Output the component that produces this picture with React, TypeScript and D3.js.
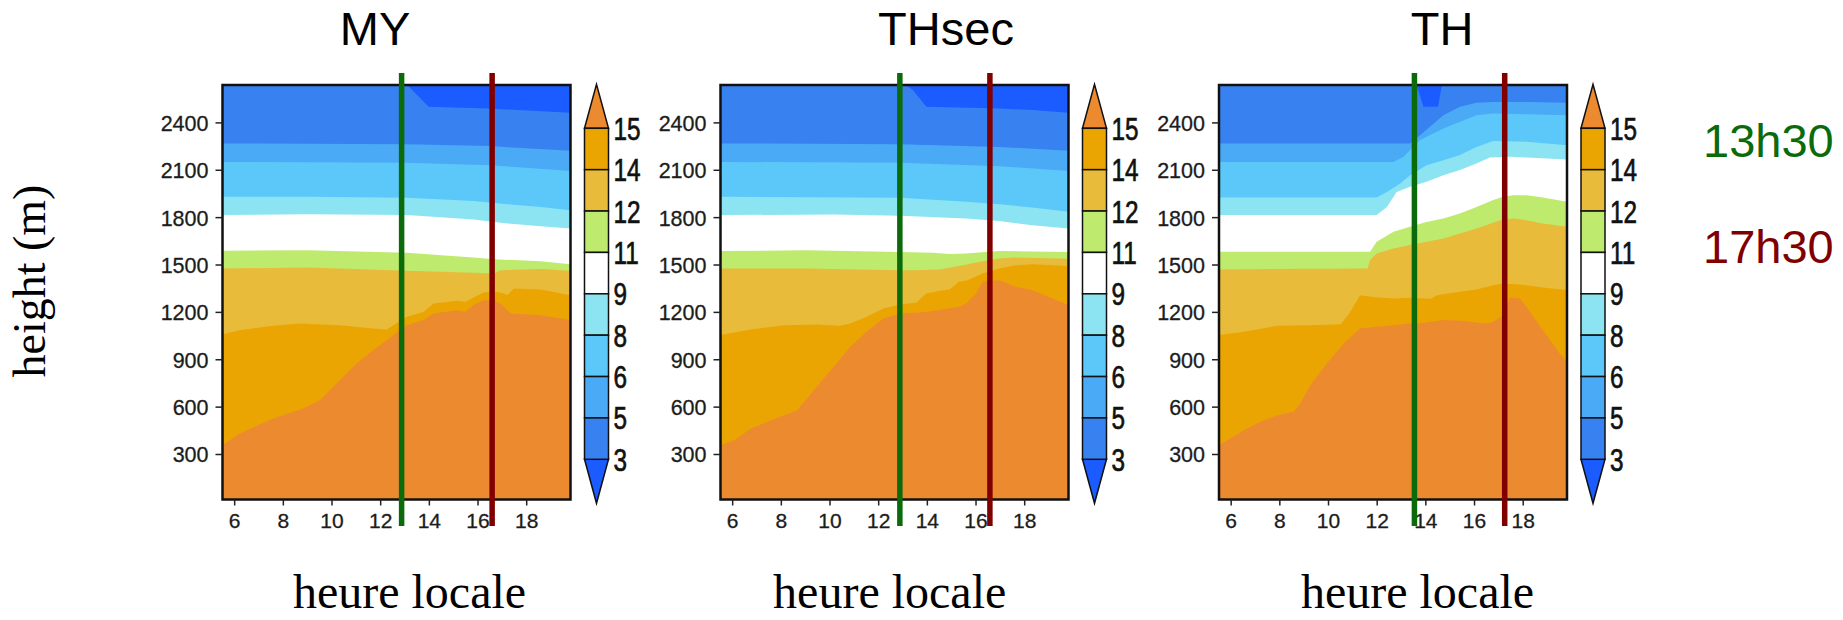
import React from "react";
import * as d3 from "d3";

type Pt = [number, number];

// contour levels (top of colorbar to bottom)
const levels = [15, 14, 12, 11, 9, 8, 6, 5, 3];
// bandColors[0] = >15, bandColors[i] = between levels[i] and levels[i-1], last = <3
const bandColors = ["#EC8A30", "#EBA502", "#E8BC3A", "#BEEA6E", "#FFFFFF", "#8CE4F3", "#5CC8FA", "#4BAAF5", "#3782F0", "#1A5CFF"];

const panelNames = ["MY", "THsec", "TH"];
const xTicks = [6, 8, 10, 12, 14, 16, 18];
const yTicks = [300, 600, 900, 1200, 1500, 1800, 2100, 2400];
const hourDomain = [5.5, 19.8];
const heightDomain = [15, 2640];
const greenHours = [12.86, 12.87, 13.53];
const redHours = [16.58, 16.57, 17.24];
const timeLabels = ["13h30", "17h30"];

// ---- MY : height (m) of each contour boundary vs local hour ----
const MY_15: Pt[] = [[5.5, 359], [6.2, 433], [7.58, 528], [8.81, 591], [9.5, 644], [10.33, 771], [11.01, 876], [11.7, 961], [12.25, 1024], [12.52, 1056], [13.07, 1119], [13.76, 1151], [14.17, 1193], [15.14, 1214], [15.48, 1204], [15.82, 1246], [16.23, 1277], [16.65, 1277], [16.92, 1256], [17.33, 1193], [18.57, 1182], [19.8, 1151]];
const MY_14: Pt[] = [[5.5, 1062], [6.2, 1087], [7.58, 1115], [8.68, 1130], [10.33, 1119], [11.7, 1098], [12.25, 1092], [12.52, 1119], [13.07, 1172], [13.76, 1203], [14.17, 1256], [15.14, 1273], [15.48, 1267], [15.82, 1294], [16.23, 1326], [16.65, 1334], [17.06, 1320], [17.2, 1309], [17.47, 1351], [18.57, 1345], [19.8, 1309]];
const MY_12: Pt[] = [[5.5, 1478], [9, 1484], [13.07, 1463], [15.82, 1451], [16.65, 1446], [16.92, 1467], [18.57, 1474], [19.8, 1463]];
const MY_11: Pt[] = [[5.5, 1590], [9, 1594], [13.07, 1577], [15.82, 1548], [16.65, 1537], [18.57, 1524], [19.8, 1505]];
const MY_9: Pt[] = [[5.5, 1816], [9, 1822], [13.07, 1816], [15.82, 1788], [17.2, 1763], [18.57, 1746], [19.8, 1731]];
const MY_8: Pt[] = [[5.5, 1932], [9, 1932], [13.07, 1926], [15.82, 1906], [17.2, 1885], [18.57, 1868], [19.8, 1847]];
const MY_6: Pt[] = [[5.5, 2153], [13.07, 2147], [16.5, 2132], [19.8, 2096]];
const MY_5: Pt[] = [[5.5, 2270], [13.07, 2265], [16.5, 2253], [19.8, 2223]];
const MY_3: Pt[] = [[5.5, 2700], [13.0, 2700], [13.1, 2639], [13.97, 2502], [16.4, 2491], [19.8, 2464]];

// ---- THsec ----
const THsec_15: Pt[] = [[5.5, 359], [6.07, 391], [6.75, 465], [7.43, 507], [8.11, 549], [8.65, 581], [9.33, 707], [10.15, 855], [10.83, 982], [11.51, 1077], [12.19, 1161], [12.87, 1193], [13.96, 1203], [15.32, 1235], [15.59, 1256], [16.0, 1320], [16.27, 1394], [16.95, 1404], [17.63, 1362], [18.31, 1341], [18.99, 1298], [19.8, 1246]];
const THsec_14: Pt[] = [[5.5, 1056], [6.75, 1092], [8.11, 1119], [9.5, 1123], [10.4, 1115], [10.83, 1130], [11.51, 1172], [12.19, 1225], [12.87, 1250], [13.55, 1263], [13.96, 1320], [14.5, 1337], [14.91, 1345], [15.3, 1394], [15.59, 1400], [16.27, 1446], [16.95, 1478], [17.63, 1499], [18.31, 1505], [19.8, 1493]];
const THsec_12: Pt[] = [[5.5, 1478], [9, 1478], [12.87, 1467], [13.55, 1467], [14.5, 1472], [15.3, 1493], [16.27, 1524], [16.95, 1541], [17.63, 1548], [19.8, 1539]];
const THsec_11: Pt[] = [[5.5, 1588], [9, 1594], [12.87, 1583], [14.23, 1577], [14.91, 1569], [15.59, 1573], [16.27, 1581], [16.95, 1588], [19.8, 1583]];
const THsec_9: Pt[] = [[5.5, 1816], [10.15, 1820], [12.87, 1812], [15.59, 1795], [16.95, 1778], [18.31, 1752], [19.8, 1731]];
const THsec_8: Pt[] = [[5.5, 1932], [12.87, 1926], [15.59, 1900], [16.95, 1885], [18.31, 1864], [19.8, 1837]];
const THsec_6: Pt[] = [[5.5, 2153], [12.87, 2147], [16.95, 2126], [19.8, 2096]];
const THsec_5: Pt[] = [[5.5, 2270], [12.87, 2265], [16.95, 2248], [19.8, 2223]];
const THsec_3: Pt[] = [[5.5, 2700], [13.05, 2700], [13.14, 2639], [13.41, 2607], [13.96, 2502], [16.95, 2491], [18.31, 2481], [19.8, 2464]];

// ---- TH ----
const TH_15: Pt[] = [[5.5, 359], [6.52, 454], [7.2, 507], [7.89, 549], [8.57, 570], [8.84, 623], [9.25, 739], [9.93, 876], [10.62, 1003], [11.3, 1098], [11.98, 1109], [12.67, 1119], [13.35, 1130], [14.03, 1136], [14.72, 1151], [15.4, 1147], [16.08, 1136], [16.49, 1130], [16.77, 1140], [17.17, 1182], [17.45, 1294], [17.86, 1288], [18.13, 1235], [18.81, 1087], [19.5, 940], [19.8, 887]];
const TH_14: Pt[] = [[5.5, 1056], [6.52, 1077], [7.89, 1115], [9.25, 1119], [10.5, 1125], [10.85, 1193], [11.3, 1309], [11.98, 1294], [12.67, 1288], [13.35, 1292], [14.2, 1286], [14.45, 1309], [15.4, 1330], [16.08, 1345], [16.77, 1372], [17.17, 1383], [17.86, 1376], [18.81, 1358], [19.8, 1341]];
const TH_12: Pt[] = [[5.5, 1472], [11.6, 1478], [11.71, 1531], [11.98, 1573], [12.67, 1605], [13.35, 1626], [14.03, 1647], [14.72, 1668], [15.4, 1700], [16.08, 1731], [16.77, 1767], [17.17, 1788], [17.58, 1794], [18.13, 1784], [18.81, 1763], [19.8, 1742]];
const TH_11: Pt[] = [[5.5, 1584], [11.71, 1584], [11.98, 1647], [12.67, 1710], [13.35, 1742], [14.03, 1773], [14.72, 1794], [15.4, 1826], [16.08, 1868], [16.77, 1911], [17.17, 1932], [17.58, 1942], [18.13, 1942], [18.81, 1927], [19.8, 1900]];
const TH_9: Pt[] = [[5.5, 1816], [11.98, 1816], [12.4, 1868], [12.8, 1963], [13.35, 1995], [14.03, 2027], [14.72, 2069], [15.4, 2101], [16.08, 2143], [16.63, 2181], [17.45, 2185], [18.13, 2181], [19.8, 2168]];
const TH_8: Pt[] = [[5.5, 1928], [11.98, 1928], [12.4, 1963], [12.95, 2016], [13.35, 2069], [14.03, 2132], [14.72, 2164], [15.4, 2196], [16.08, 2248], [16.77, 2286], [18.13, 2280], [19.8, 2259]];
const TH_6: Pt[] = [[5.5, 2153], [12.67, 2153], [13.08, 2185], [13.76, 2291], [14.72, 2365], [15.4, 2407], [16.08, 2449], [16.77, 2460], [18.13, 2455], [19.8, 2449]];
const TH_5: Pt[] = [[5.5, 2270], [13.35, 2270], [13.76, 2322], [14.72, 2449], [15.4, 2502], [16.08, 2527], [16.77, 2533], [18.13, 2533], [19.8, 2527]];
const TH_3: Pt[] = [[5.5, 2700], [13.6, 2700], [13.62, 2639], [13.9, 2502], [14.5, 2502], [14.65, 2630], [14.67, 2700], [19.8, 2700]];

const panelBounds: Pt[][][] = [
  [MY_15, MY_14, MY_12, MY_11, MY_9, MY_8, MY_6, MY_5, MY_3],
  [THsec_15, THsec_14, THsec_12, THsec_11, THsec_9, THsec_8, THsec_6, THsec_5, THsec_3],
  [TH_15, TH_14, TH_12, TH_11, TH_9, TH_8, TH_6, TH_5, TH_3],
];

// ---- layout ----
const WIDTH = 1843;
const HEIGHT = 620;
const panelLefts = [222.5, 720.5, 1219];
const titleX = [375, 946, 1442];
const xLabelX = [409.5, 889.7, 1417.5];
const PW = 348;
const TOP = 85;
const PH = 414.5;
const CB_OFF = 362;
const CB_W = 24;
const CB_TOP = 128.3;
const CB_BOT = 459.3;
const TRI = 44;

const SANS = "'Liberation Sans', Arial, sans-serif";
const SERIF = "'Liberation Serif', 'Times New Roman', serif";

function Panel({ idx }: { idx: number }) {
  const left = panelLefts[idx];
  const x = d3.scaleLinear().domain(hourDomain).range([left, left + PW]);
  const y = d3.scaleLinear().domain(heightDomain).range([TOP + PH, TOP]);
  const area = d3
    .area<Pt>()
    .x((d) => x(d[0]))
    .y0(TOP + PH + 10)
    .y1((d) => y(d[1]));
  const bounds = panelBounds[idx];
  const clipId = `clip-${idx}`;
  const cbx = left + CB_OFF;
  const cb = d3.scaleLinear().domain([0, levels.length - 1]).range([CB_TOP, CB_BOT]);
  const order = d3.range(bounds.length - 1, -1, -1);

  return (
    <g>
      <defs>
        <clipPath id={clipId}>
          <rect x={left} y={TOP} width={PW} height={PH} />
        </clipPath>
      </defs>
      <g clipPath={`url(#${clipId})`}>
        <rect x={left} y={TOP} width={PW} height={PH} fill={bandColors[bandColors.length - 1]} />
        {order.map((i) => (
          <path key={i} d={area(bounds[i]) || ""} fill={bandColors[i]} />
        ))}
      </g>
      <rect x={left} y={TOP} width={PW} height={PH} fill="none" stroke="#111" strokeWidth={2.5} />
      {/* y axis */}
      {yTicks.map((t) => (
        <g key={t}>
          <line x1={left - 7} x2={left} y1={y(t)} y2={y(t)} stroke="#222" strokeWidth={1.5} />
          <text x={left - 14} y={y(t) + 8} textAnchor="end" fontFamily={SANS} fontSize={21.5} fill="#1c1c1c" stroke="#1c1c1c" strokeWidth={0.3}>
            {t}
          </text>
        </g>
      ))}
      {/* x axis */}
      {xTicks.map((t) => (
        <g key={t}>
          <line x1={x(t)} x2={x(t)} y1={TOP + PH} y2={TOP + PH + 6} stroke="#222" strokeWidth={1.5} />
          <text x={x(t)} y={528} textAnchor="middle" fontFamily={SANS} fontSize={21} fill="#1c1c1c" stroke="#1c1c1c" strokeWidth={0.3}>
            {t}
          </text>
        </g>
      ))}
      {/* colorbar */}
      <path
        d={`M${cbx},${CB_TOP} L${cbx + CB_W / 2},${CB_TOP - TRI} L${cbx + CB_W},${CB_TOP} Z`}
        fill={bandColors[0]}
        stroke="#111"
        strokeWidth={1.5}
      />
      <path
        d={`M${cbx},${CB_BOT} L${cbx + CB_W / 2},${CB_BOT + TRI} L${cbx + CB_W},${CB_BOT} Z`}
        fill={bandColors[bandColors.length - 1]}
        stroke="#111"
        strokeWidth={1.5}
      />
      {levels.slice(0, -1).map((_, i) => (
        <rect key={i} x={cbx} y={cb(i)} width={CB_W} height={cb(i + 1) - cb(i)} fill={bandColors[i + 1]} stroke="#111" strokeWidth={1.5} />
      ))}
      {levels.map((lv, i) => (
        <text
          key={lv}
          transform={`translate(${cbx + CB_W + 5},${cb(i) + 11.5}) scale(0.76,1)`}
          fontFamily={SANS}
          fontSize={32}
          fill="#111"
          stroke="#111"
          strokeWidth={0.7}
        >
          {lv}
        </text>
      ))}
      {/* vertical time markers */}
      <line x1={x(greenHours[idx])} x2={x(greenHours[idx])} y1={73} y2={526} stroke="#0B6B0B" strokeWidth={5.5} />
      <line x1={x(redHours[idx])} x2={x(redHours[idx])} y1={73} y2={526} stroke="#800000" strokeWidth={5.5} />
      {/* titles */}
      <text x={titleX[idx]} y={45} textAnchor="middle" fontFamily={SANS} fontSize={47} fill="#000">
        {panelNames[idx]}
      </text>
      <text x={xLabelX[idx]} y={608} textAnchor="middle" fontFamily={SERIF} fontSize={48} fill="#000">
        heure locale
      </text>
    </g>
  );
}

export default function App() {
  return (
    <svg width={WIDTH} height={HEIGHT} style={{ display: "block", position: "absolute", left: 0, top: 0, background: "#fff" }}>
      <rect width={WIDTH} height={HEIGHT} fill="#fff" />
      {panelNames.map((_, i) => (
        <Panel key={i} idx={i} />
      ))}
      <text transform="translate(45,281) rotate(-90)" textAnchor="middle" fontFamily={SERIF} fontSize={46} fill="#000">
        height (m)
      </text>
      <text x={1703} y={157} fontFamily={SANS} fontSize={47} fill="#0B6B0B">
        {timeLabels[0]}
      </text>
      <text x={1703} y={263} fontFamily={SANS} fontSize={47} fill="#800000">
        {timeLabels[1]}
      </text>
    </svg>
  );
}
